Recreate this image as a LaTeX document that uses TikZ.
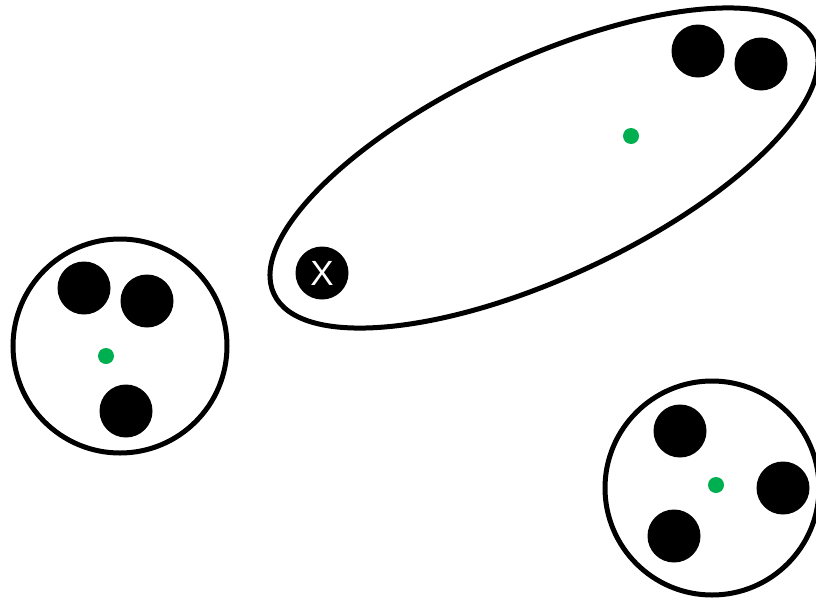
\documentclass[tikz,border=0pt]{standalone}
\usepackage{fontspec}
\setmainfont{Liberation Sans}
\usetikzlibrary{shapes.geometric}
\definecolor{cgreen}{RGB}{0,176,80}
\tikzset{
  cluster/.style={draw=black, line width=5pt, circle, inner sep=0pt},
  ball/.style={fill=black, circle, inner sep=0pt, minimum size=53pt},
  centroid/.style={fill=cgreen, circle, inner sep=0pt, minimum size=16pt},
}
\begin{document}
\begin{tikzpicture}[x=1pt,y=-1pt]
\useasboundingbox (0,0) rectangle (816,600);
% clusters
\node[cluster, minimum size=214pt] (c1) at (120,346) {};
\node[cluster, minimum size=214pt] (c3) at (712,488) {};
\node[draw=black, line width=5pt, ellipse, inner sep=0pt, minimum width=596pt, minimum height=218pt, rotate=25] (c2) at (544,168) {};
% balls
\node[ball] (a1) at (84,288) {};
\node[ball] (a2) at (147,301) {};
\node[ball] (a3) at (126,411) {};
\node[ball] (b1) at (698,51) {};
\node[ball] (b2) at (761,64) {};
\node[ball, text=white, font=\fontsize{35}{35}\selectfont] (bx) at (322,273) {X};
\node[ball] (d1) at (680,431) {};
\node[ball] (d2) at (783,488) {};
\node[ball] (d3) at (674,536) {};
% centroids
\node[centroid] (g1) at (106,356) {};
\node[centroid] (g2) at (631,136) {};
\node[centroid] (g3) at (716,485) {};
\end{tikzpicture}
\end{document}
